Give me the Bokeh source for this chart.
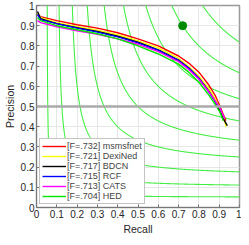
import numpy as np
from bokeh.plotting import figure
from bokeh.models import Range1d, FixedTicker, Legend, LegendItem, Span
from bokeh.embed import file_html
from bokeh.resources import INLINE

# ---- data ----
method_labels = ["[F=.732] msmsfnet", "[F=.721] DexiNed", "[F=.717] BDCN",
                 "[F=.715] RCF", "[F=.713] CATS", "[F=.704] HED"]
method_colors = ["#ff0000", "#ffff00", "#000000", "#0000ff", "#ff00ff", "#00e600"]

recall_msmsfnet = [0.005, 0.02, 0.1, 0.2, 0.3, 0.4, 0.5, 0.6, 0.7, 0.75, 0.8, 0.85, 0.88, 0.9, 0.92, 0.933]
precision_msmsfnet = [0.955, 0.945, 0.925, 0.905, 0.888, 0.865, 0.835, 0.80, 0.75, 0.715, 0.67, 0.605, 0.555, 0.51, 0.46, 0.43]

recall_dexined = [0.005, 0.02, 0.1, 0.2, 0.3, 0.4, 0.5, 0.6, 0.7, 0.75, 0.8, 0.85, 0.88, 0.9, 0.92, 0.935]
precision_dexined = [0.965, 0.94, 0.915, 0.895, 0.878, 0.855, 0.825, 0.79, 0.738, 0.698, 0.65, 0.587, 0.538, 0.495, 0.445, 0.40]

recall_bdcn = [0.005, 0.02, 0.1, 0.2, 0.3, 0.4, 0.5, 0.6, 0.7, 0.75, 0.8, 0.85, 0.88, 0.9, 0.92, 0.94]
precision_bdcn = [0.97, 0.935, 0.91, 0.89, 0.872, 0.848, 0.818, 0.78, 0.73, 0.69, 0.64, 0.575, 0.525, 0.485, 0.44, 0.405]

recall_rcf = [0.005, 0.02, 0.1, 0.2, 0.3, 0.4, 0.5, 0.6, 0.7, 0.75, 0.8, 0.85, 0.88, 0.91]
precision_rcf = [0.955, 0.93, 0.91, 0.888, 0.868, 0.845, 0.815, 0.778, 0.728, 0.69, 0.64, 0.57, 0.525, 0.48]

recall_cats = [0.005, 0.02, 0.1, 0.2, 0.3, 0.4, 0.5, 0.6, 0.7, 0.75, 0.8, 0.85, 0.88, 0.905, 0.927]
precision_cats = [0.925, 0.915, 0.895, 0.875, 0.857, 0.835, 0.808, 0.772, 0.722, 0.683, 0.635, 0.572, 0.528, 0.488, 0.44]

recall_hed = [0.005, 0.02, 0.1, 0.2, 0.3, 0.4, 0.5, 0.6, 0.7, 0.75, 0.8, 0.85, 0.88, 0.905, 0.92]
precision_hed = [0.94, 0.925, 0.9, 0.88, 0.86, 0.835, 0.80, 0.76, 0.71, 0.67, 0.62, 0.555, 0.51, 0.47, 0.43]

recalls = [recall_msmsfnet, recall_dexined, recall_bdcn, recall_rcf, recall_cats, recall_hed]
precisions = [precision_msmsfnet, precision_dexined, precision_bdcn, precision_rcf, precision_cats, precision_hed]

iso_f_levels = [0.1, 0.2, 0.3, 0.4, 0.5, 0.6, 0.7, 0.8, 0.9]
human_recall = [0.72]
human_precision = [0.90]
tick_values = [0, 0.1, 0.2, 0.3, 0.4, 0.5, 0.6, 0.7, 0.8, 0.9, 1]
tick_labels = ["0", "0.1", "0.2", "0.3", "0.4", "0.5", "0.6", "0.7", "0.8", "0.9", "1"]

FONT = "Liberation Sans"

p = figure(width=241, height=237, output_backend="svg", toolbar_location=None,
           x_range=Range1d(0, 1), y_range=Range1d(0, 1),
           min_border_left=0, min_border_right=2, min_border_top=5, min_border_bottom=0)

# iso-F contours
for f in iso_f_levels:
    r = np.linspace(f / 2 + 0.0005, 1, 600)
    pr = f * r / (2 * r - f)
    m = pr <= 1.3
    p.line(r[m], pr[m], line_color="#44ee44", line_width=1.1)

p.add_layout(Span(location=0.5, dimension="width", line_color="#aaaaaa", line_width=2.5))

renderers = []
for r, pr, c in zip(recalls, precisions, method_colors):
    renderers.append(p.line(r, pr, line_color=c, line_width=1.4))

p.scatter(human_recall, human_precision, size=8, fill_color="#008a00", line_color="#008a00")

legend = Legend(items=[LegendItem(label=l, renderers=[rd]) for l, rd in zip(method_labels, renderers)],
                location="bottom_left")
legend.margin = 3
legend.padding = 2
legend.spacing = 0
legend.glyph_width = 24
legend.glyph_height = 10
legend.label_height = 10
legend.label_standoff = 1
legend.label_text_font = FONT
legend.label_text_font_size = "9px"
legend.border_line_color = "#888888"
legend.background_fill_alpha = 1.0
p.add_layout(legend)

for ax in (p.xaxis, p.yaxis):
    ax.ticker = FixedTicker(ticks=tick_values)
    ax.major_label_overrides = {v: l for v, l in zip(tick_values, tick_labels)}
    ax.major_tick_in = 3
    ax.major_tick_out = 0
    ax.minor_tick_line_color = None
    ax.major_label_text_font = FONT
    ax.major_label_text_font_size = "10px"
    ax.major_label_text_color = "#262626"
    ax.axis_label_text_font = FONT
    ax.axis_label_text_font_size = "10.5px"
    ax.axis_label_text_font_style = "normal"
    ax.axis_label_text_color = "#262626"
    ax.axis_line_color = "#777777"
    ax.major_tick_line_color = "#777777"
    ax.major_label_standoff = 2
    ax.axis_label_standoff = 2

p.xaxis.axis_label = "Recall"
p.yaxis.axis_label = "Precision"

p.xgrid.ticker = FixedTicker(ticks=tick_values)
p.ygrid.ticker = FixedTicker(ticks=tick_values)
p.grid.grid_line_color = "#e6e6e6"
p.outline_line_color = "#999999"
p.outline_line_width = 1.5

open("out.html", "w").write(file_html(p, INLINE))
